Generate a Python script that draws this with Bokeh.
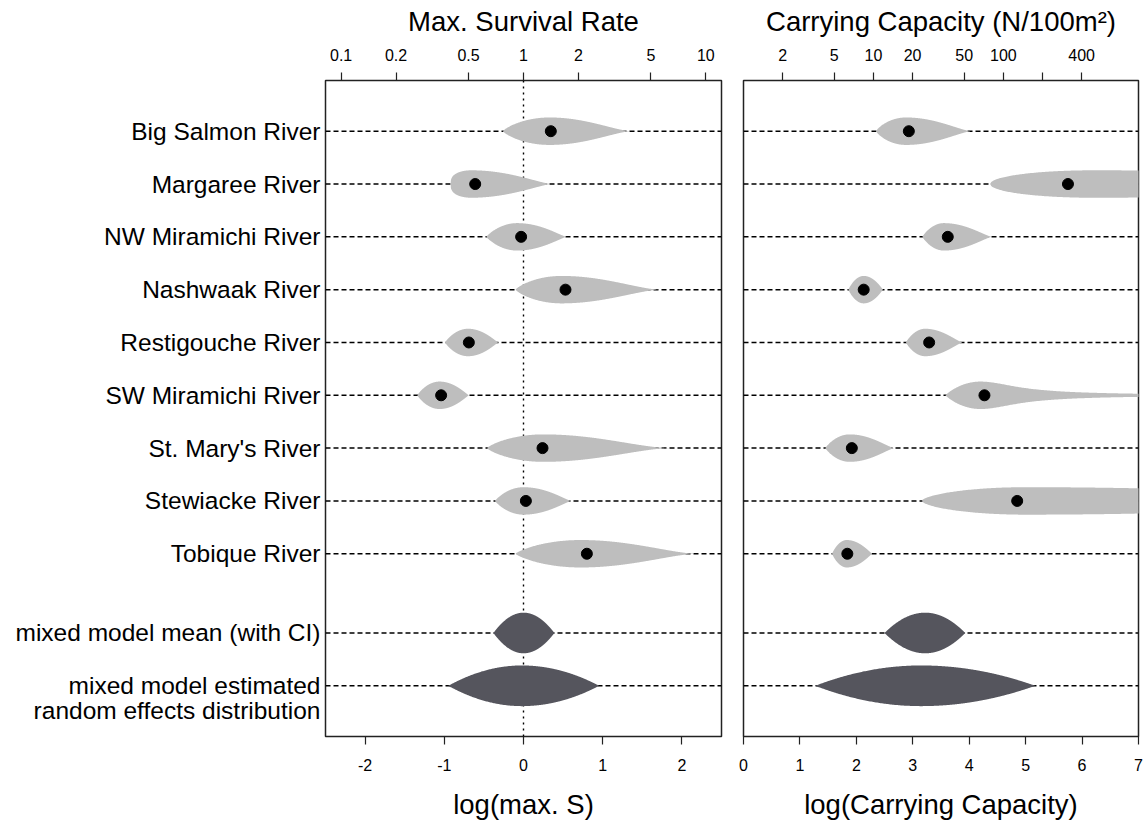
import numpy as np
from bokeh.plotting import figure
from bokeh.models import Range1d, FixedTicker, LinearAxis, Span
from bokeh.layouts import row
from bokeh.embed import file_html
from bokeh.resources import INLINE

# ---------------- data ----------------
rivers = ["Big Salmon River", "Margaree River", "NW Miramichi River", "Nashwaak River",
          "Restigouche River", "SW Miramichi River", "St. Mary's River", "Stewiacke River",
          "Tobique River"]
summary_labels = ["mixed model mean (with CI)", "mixed model estimated", "random effects distribution"]

# log(max. S): point estimate, violin extent (low/high), violin mode, side shapes
S_point = [0.345, -0.61, -0.03, 0.53, -0.69, -1.04, 0.24, 0.03, 0.80]
S_low = [-0.26, -0.92, -0.47, -0.10, -0.99, -1.34, -0.46, -0.36, -0.10]
S_peak = [0.33, -0.66, -0.08, 0.48, -0.70, -1.06, 0.25, 0.00, 0.72]
S_high = [1.355, 0.345, 0.54, 1.72, -0.32, -0.69, 1.85, 0.60, 2.18]
S_shape_low = [0.8, 0.35, 0.9, 0.8, 0.9, 0.9, 0.8, 0.9, 0.8]
S_shape_high = [1.5, 1.3, 1.2, 1.6, 1.1, 1.1, 1.7, 1.2, 1.6]
S_mix_low = [-0.38, -0.95]
S_mix_peak = [0.0, -0.02]
S_mix_high = [0.39, 0.955]

# log(Carrying Capacity)
K_point = [2.93, 5.75, 3.62, 2.13, 3.29, 4.27, 1.92, 4.85, 1.84]
K_low = [2.35, 4.37, 3.17, 1.86, 2.88, 3.58, 1.45, 3.16, 1.57]
K_peak = [2.88, 6.2, 3.55, 2.13, 3.22, 4.2, 1.88, 5.0, 1.83]
K_high = [4.03, 14.0, 4.40, 2.47, 3.88, 9.0, 2.67, 12.0, 2.28]
K_shape_low = [0.8, 0.5, 0.9, 0.9, 0.9, 0.9, 0.9, 0.6, 0.9]
K_shape_high = [1.4, 1.5, 1.3, 1.0, 1.3, 0.0, 1.3, 1.0, 1.1]
K_tail_scale = [0, 0, 0, 0, 0, 0.683, 0, 0, 0]
K_tail_power = [0, 0, 0, 0, 0, 0.75, 0, 0, 0]
K_mix_low = [2.50, 1.27]
K_mix_peak = [3.22, 3.15]
K_mix_high = [3.93, 5.17]

S_top_ticks = [0.1, 0.2, 0.5, 1, 2, 5, 10]
S_top_labels = ["0.1", "0.2", "0.5", "1", "2", "5", "10"]
K_top_ticks = [2, 5, 10, 20, 50, 100, 200, 400]
K_top_labels = ["2", "5", "10", "20", "50", "100", "", "400"]
S_bottom_ticks = [-2, -1, 0, 1, 2]
K_bottom_ticks = [0, 1, 2, 3, 4, 5, 6, 7]

# ---------------- styling ----------------
FONT = "Liberation Sans"
GREY = "#BEBEBE"
DARK = "#55555D"
HALF_RIVER = 0.26
HALF_MIX = 0.385

river_rows = list(range(1, len(rivers) + 1))
mix_rows = [len(rivers) + 1.5, len(rivers) + 2.5]
second_line = mix_rows[1] + 0.475


def violin(lo, pk, hi, ql, qr, half, ts=0.0, tk=0.0):
    xl = np.linspace(lo, pk, 90)
    tl = (pk - xl) / (pk - lo)
    wl = half * np.clip(1 - tl ** 2, 0, None) ** ql
    xr = np.linspace(pk, hi, 260)[1:]
    tr = (xr - pk) / (hi - pk)
    wr = half * np.clip(1 - tr ** 2, 0, None) ** qr
    if ts:
        wr = wr * (1 + ((xr - pk) / ts) ** 2) ** (-tk)
    x = np.concatenate([xl, xr])
    w = np.concatenate([wl, wr])
    return x, w


def outline(x, w, r):
    xs = np.concatenate([x, x[::-1]])
    ys = np.concatenate([r - w, (r + w)[::-1]])
    return list(xs), list(ys)


yr = Range1d(start=12.46, end=0.04)


def make_fig(width, xr, bl, br, with_y):
    p = figure(width=width, height=824, x_range=xr, y_range=yr,
               output_backend="svg", toolbar_location=None,
               min_border_left=bl, min_border_right=br,
               min_border_top=80, min_border_bottom=88,
               y_axis_location="left" if with_y else None)
    p.grid.visible = False
    p.outline_line_color = "#222222"
    p.outline_line_width = 1.5
    p.background_fill_color = "white"
    p.border_fill_color = "white"
    return p


def style_x_axis(ax, ticks, overrides, label, top):
    ax.ticker = FixedTicker(ticks=ticks, minor_ticks=[])
    ax.major_label_overrides = overrides
    ax.axis_label = label
    ax.axis_line_color = None
    ax.major_tick_out = 8
    ax.major_tick_in = 0
    ax.minor_tick_out = 0
    ax.minor_tick_in = 0
    ax.major_tick_line_color = "#222222"
    ax.major_tick_line_width = 1.2
    ax.major_label_text_font = FONT
    ax.major_label_text_font_size = "16px"
    ax.major_label_text_color = "black"
    ax.axis_label_text_font = FONT
    ax.axis_label_text_font_size = "27.5px"
    ax.axis_label_text_font_style = "normal"
    ax.axis_label_text_color = "black"
    if top:
        ax.major_label_standoff = 12
        ax.axis_label_standoff = 9
    else:
        ax.major_label_standoff = 14
        ax.axis_label_standoff = 15


def draw_panel(p, low, peak, high, ql, qr, pts, mlow, mpeak, mhigh, ts=None, tk=None):
    for r in river_rows + mix_rows:
        p.add_layout(Span(location=r, dimension="width", line_color="black",
                          line_width=1.5, line_dash="5 3", level="underlay"))
    xs_all, ys_all = [], []
    for i, r in enumerate(river_rows):
        x, w = violin(low[i], peak[i], high[i], ql[i], qr[i], HALF_RIVER,
                      ts[i] if ts else 0.0, tk[i] if tk else 0.0)
        xs, ys = outline(x, w, r)
        xs_all.append(xs)
        ys_all.append(ys)
    p.patches(xs_all, ys_all, fill_color=GREY, line_color=None)
    mx, my = [], []
    for j, r in enumerate(mix_rows):
        x, w = violin(mlow[j], mpeak[j], mhigh[j], 1.0, 1.0, HALF_MIX)
        xs, ys = outline(x, w, r)
        mx.append(xs)
        my.append(ys)
    p.patches(mx, my, fill_color=DARK, line_color=None)
    p.scatter(pts, river_rows, size=11, color="black")


# ---------------- left panel ----------------
p1 = make_fig(732, Range1d(-2.5, 2.5), 325, 11, True)
p1.add_layout(Span(location=0, dimension="height", line_color="black",
                   line_width=1.4, line_dash="2 4", level="underlay"))
draw_panel(p1, S_low, S_peak, S_high, S_shape_low, S_shape_high, S_point,
           S_mix_low, S_mix_peak, S_mix_high)

style_x_axis(p1.xaxis[0], S_bottom_ticks, {t: str(t) for t in S_bottom_ticks}, "log(max. S)", False)
top1 = LinearAxis()
s_top_pos = [float(np.log(v)) for v in S_top_ticks]
style_x_axis(top1, s_top_pos, {t: l for t, l in zip(s_top_pos, S_top_labels)}, "Max. Survival Rate", True)
p1.add_layout(top1, "above")

ya = p1.yaxis[0]
ya.ticker = FixedTicker(ticks=river_rows + mix_rows + [second_line], minor_ticks=[])
ov = {r: n for r, n in zip(river_rows, rivers)}
ov[mix_rows[0]] = summary_labels[0]
ov[mix_rows[1]] = summary_labels[1]
ov[second_line] = summary_labels[2]
ya.major_label_overrides = ov
ya.axis_line_color = None
ya.major_tick_line_color = None
ya.minor_tick_line_color = None
ya.major_tick_out = 0
ya.major_tick_in = 0
ya.major_label_standoff = 5
ya.major_label_text_font = FONT
ya.major_label_text_font_size = "24.5px"
ya.major_label_text_color = "black"

# ---------------- right panel ----------------
p2 = make_fig(413, Range1d(0, 7), 11, 7, False)
draw_panel(p2, K_low, K_peak, K_high, K_shape_low, K_shape_high, K_point,
           K_mix_low, K_mix_peak, K_mix_high, K_tail_scale, K_tail_power)
style_x_axis(p2.xaxis[0], K_bottom_ticks, {t: str(t) for t in K_bottom_ticks}, "log(Carrying Capacity)", False)
top2 = LinearAxis()
k_top_pos = [float(np.log(v)) for v in K_top_ticks]
style_x_axis(top2, k_top_pos, {t: l for t, l in zip(k_top_pos, K_top_labels)}, "Carrying Capacity (N/100m²)", True)
p2.add_layout(top2, "above")

layout = row(p1, p2)
open("out.html", "w").write(file_html(layout, INLINE))
